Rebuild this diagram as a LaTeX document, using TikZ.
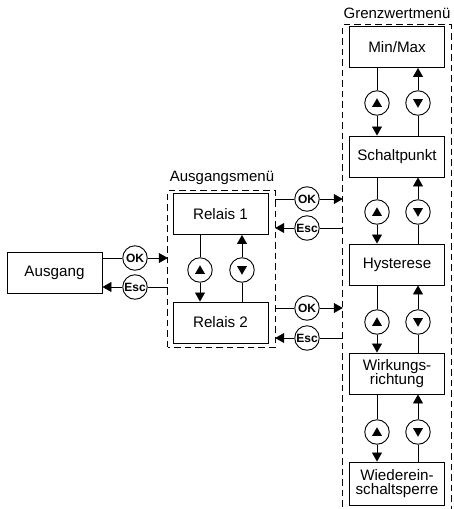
\documentclass[tikz,border=0pt]{standalone}
\usepackage{fontspec}
\setmainfont{Liberation Sans}
\usetikzlibrary{arrows.meta,shapes.geometric}
\begin{document}
\begin{tikzpicture}[x=1pt,y=-1pt,
  menubox/.style={draw,line width=0.95pt,minimum width=95pt,minimum height=41pt,inner sep=0pt,align=center,font=\fontsize{15.2}{14.5}\selectfont},
  btn/.style={draw,circle,line width=0.9pt,minimum size=24.5pt,inner sep=0pt,fill=white,font=\bfseries\fontsize{12}{12}\selectfont},
  tri/.style={regular polygon,regular polygon sides=3,fill=black,minimum size=11.5pt,inner sep=0pt},
  arr/.style={line width=0.8pt,-{Triangle[width=10pt,length=9pt]}},
  dbox/.style={line width=0.9pt,dash pattern=on 6.5pt off 4pt},
  lbl/.style={font=\fontsize{15}{15}\selectfont}]
\useasboundingbox (0,0) rectangle (453,509);

% dashed groups
\node[minimum width=107pt,minimum height=156pt,inner sep=0pt] (am) at (221.5,269) {};
\draw[dbox] (am.south west) rectangle (am.north east);
\node[minimum width=108pt,minimum height=492pt,inner sep=0pt] (gm) at (397,271) {};
\draw[dbox] (gm.south west) -- (gm.north west) -- (gm.north east) -- (gm.south east);
\node[lbl] (amlbl) at (222,178) {Ausgangsmenü};
\node[lbl] (gmlbl) at (397,13) {Grenzwertmenü};

% boxes
\node[menubox] (aus) at (54.5,273) {Ausgang};
\node[menubox] (r1) at (220.5,214) {Relais 1};
\node[menubox] (r2) at (220.5,322.5) {Relais 2};
\node[menubox] (mm) at (397,47) {Min/Max};
\node[menubox] (sp) at (397,156.5) {Schaltpunkt};
\node[menubox] (hy) at (397,264.5) {Hysterese};
\node[menubox] (wr) at (397,373.5) {Wirkungs-\\richtung};
\node[menubox,minimum height=43pt] (ws) at (397,483.5) {Wiederein-\\schaltsperre};

% up/down buttons
\foreach \n/\x/\y in {ua/200/270, u1/377/103, u2/377/212, u3/377/322, u4/377/432}{
  \node[btn] (\n) at (\x,\y) {};
  \node[tri] at ([yshift=-1pt]\n.center) {};
}
\foreach \n/\x/\y in {da/242/270, d1/418/103, d2/418/212, d3/418/322, d4/418/432}{
  \node[btn] (\n) at (\x,\y) {};
  \node[tri,shape border rotate=180] at ([yshift=1pt]\n.center) {};
}

% vertical connectors
\draw[arr] (r1.south -| ua) -- (ua) -- (r2.north -| ua);
\draw[arr] (r2.north -| da) -- (da) -- (r1.south -| da);
\draw[arr] (mm.south -| u1) -- (u1) -- (sp.north -| u1);
\draw[arr] (sp.north -| d1) -- (d1) -- (mm.south -| d1);
\draw[arr] (sp.south -| u2) -- (u2) -- (hy.north -| u2);
\draw[arr] (hy.north -| d2) -- (d2) -- (sp.south -| d2);
\draw[arr] (hy.south -| u3) -- (u3) -- (wr.north -| u3);
\draw[arr] (wr.north -| d3) -- (d3) -- (hy.south -| d3);
\draw[arr] (wr.south -| u4) -- (u4) -- (ws.north -| u4);
\draw[arr] (ws.north -| d4) -- (d4) -- (wr.south -| d4);

% OK / Esc buttons
\node[btn] (ok0) at (135,258) {OK};
\node[btn] (esc0) at (135,287) {Esc};
\node[btn] (ok1) at (307,199) {OK};
\node[btn] (esc1) at (307,228) {Esc};
\node[btn] (ok2) at (307,308) {OK};
\node[btn] (esc2) at (307,338) {Esc};

\draw[arr] (aus.east |- ok0) -- (ok0) -- (am.west |- ok0);
\draw[arr] (am.west |- esc0) -- (esc0) -- (aus.east |- esc0);
\draw[arr] (am.east |- ok1) -- (ok1) -- (gm.west |- ok1);
\draw[arr] (gm.west |- esc1) -- (esc1) -- (am.east |- esc1);
\draw[arr] (am.east |- ok2) -- (ok2) -- (gm.west |- ok2);
\draw[arr] (gm.west |- esc2) -- (esc2) -- (am.east |- esc2);
\end{tikzpicture}
\end{document}
